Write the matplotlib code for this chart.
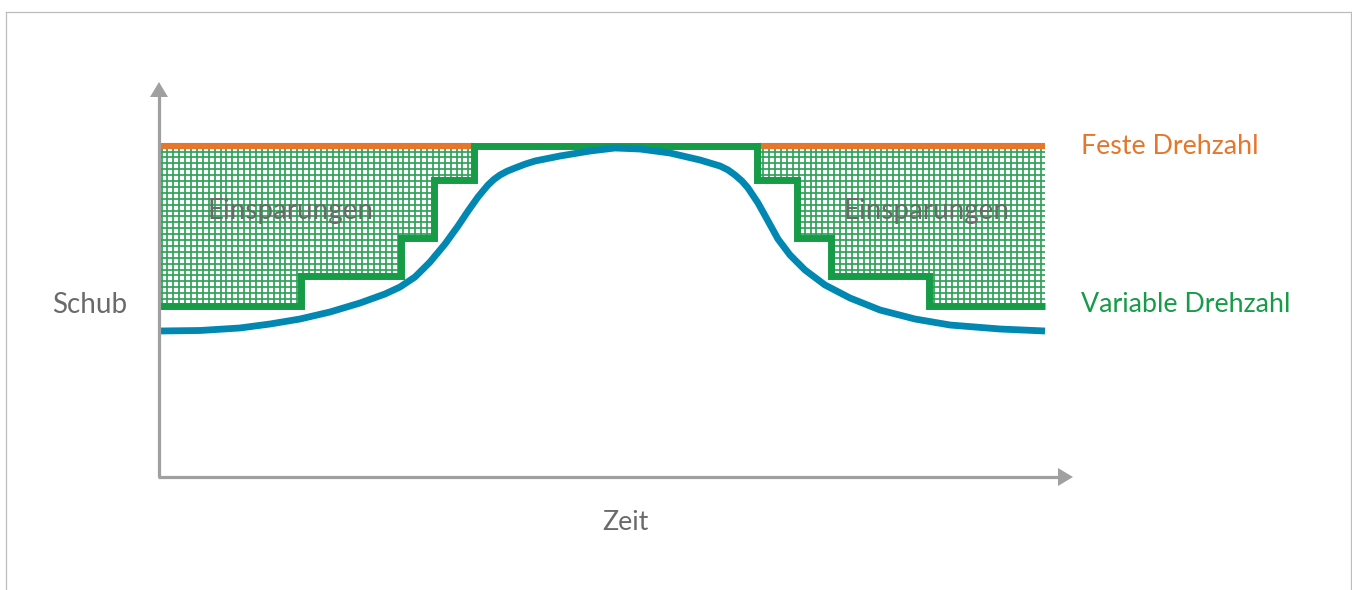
import numpy as np
import matplotlib
matplotlib.use("Agg")
import matplotlib.pyplot as plt
from matplotlib.path import Path
from matplotlib.patches import PathPatch, Polygon
from matplotlib.collections import LineCollection
from matplotlib.transforms import IdentityTransform

# ---- data (time and thrust in percent of the fixed-speed level) ----
step_time = [0, 16.0, 27.3, 31.0, 35.5, 67.5, 72.0, 75.8, 86.9, 100]
step_thrust = [51.8, 60.6, 72.2, 89.7, 100, 89.7, 72.2, 60.6, 51.8, 51.8]

fixed_time = [[0, 35.5], [67.5, 100]]
fixed_thrust = 100

demand_time = [0, 4.63, 9.14, 12.53, 15.91, 19.30, 22.69, 25.51, 27.20, 28.89,
               30.59, 32.28, 33.75, 34.88, 36.00, 37.13, 37.80, 38.49, 39.30, 40.18,
               41.30, 42.44, 45.26, 48.65, 51.47, 54.29, 57.67, 61.06, 63.32, 64.20,
               65.01, 65.80, 66.48, 67.61, 68.74, 69.86, 71.22, 72.91, 75.17, 77.99,
               81.38, 85.33, 89.28, 94.92, 100]
demand_thrust = [44.11, 44.26, 45.02, 46.22, 47.73, 49.85, 52.57, 55.29, 57.40, 60.42,
                 64.95, 70.39, 75.83, 80.36, 84.59, 88.22, 89.90, 91.24, 92.40, 93.35,
                 94.50, 95.47, 96.98, 98.49, 99.40, 99.09, 97.89, 95.77, 93.96, 92.80,
                 91.24, 89.40, 87.31, 82.78, 77.34, 71.90, 67.07, 62.54, 58.01, 54.08,
                 50.45, 47.73, 45.92, 44.71, 44.11]

label_fixed = "Feste Drehzahl"
label_variable = "Variable Drehzahl"
label_savings = "Einsparungen"
label_y = "Schub"
label_x = "Zeit"

# ---- style ----
ORANGE = "#E5762A"
GREEN = "#169B47"
HATCH = "#2FA258"
BLUE = "#0088B2"
AXIS = "#A0A0A0"
TEXT = "#6A6A6A"
FONT = "Lato"

W, H, DPI = 1352, 590, 100
X0, Y0 = 159, 477            # pixel position of the axis origin (from top-left)
SX, SY = 8.86, 3.31          # pixels per data unit

fig = plt.figure(figsize=(W / DPI, H / DPI), dpi=DPI)
ax = fig.add_axes([0, 0, 1, 1])
ax.set_xlim(-X0 / SX, (W - X0) / SX)
ax.set_ylim((Y0 - H) / SY, Y0 / SY)
ax.axis("off")


def px(x, y):
    """Pixel (from top-left) to data coordinates."""
    return (x - X0) / SX, (Y0 - y) / SY


# frame around the figure
frame_kw = dict(color="#BDBDBD", lw=0.9, transform=fig.transFigure)
fig.add_artist(plt.Line2D([5.5 / W, 5.5 / W], [0, 1 - 11.5 / H], **frame_kw))
fig.add_artist(plt.Line2D([5.5 / W, 1350.5 / W], [1 - 11.5 / H, 1 - 11.5 / H], **frame_kw))
fig.add_artist(plt.Line2D([1350.5 / W, 1350.5 / W], [0, 1 - 11.5 / H], **frame_kw))

# savings region: between fixed-speed level and the stepped variable-speed line
verts = []
for i in range(len(step_time) - 1):
    verts.append((step_time[i], step_thrust[i]))
    verts.append((step_time[i + 1], step_thrust[i]))
verts.append((step_time[-1], step_thrust[-1]))
verts.append((step_time[-1], fixed_thrust))
verts.append((step_time[0], fixed_thrust))
region = PathPatch(Path(verts + [verts[0]], closed=True), facecolor="none", edgecolor="none")
ax.add_patch(region)

# grid hatch inside the region, drawn in pixel space
spacing = 5.9
segs = []
for gx in np.arange(X0 + 2.5, 1046, spacing):
    segs.append([(gx, H - 140), (gx, H - 320)])
for gy in np.arange(146 + 5.5, 312, spacing):
    segs.append([(X0, H - gy), (1046, H - gy)])
grid = LineCollection(segs, colors=HATCH, linewidths=1.25, transform=IdentityTransform(),
                      zorder=1)
ax.add_collection(grid)
grid.set_clip_path(region)

# fixed speed
for seg in fixed_time:
    ax.plot(seg, [fixed_thrust, fixed_thrust], color=ORANGE, lw=4.4,
            solid_capstyle="butt", zorder=3)

# variable speed steps
ax.plot(step_time, step_thrust, drawstyle="steps-post", color=GREEN, lw=5.0,
        solid_capstyle="butt", solid_joinstyle="miter", zorder=4)

# demand curve
ax.plot(demand_time, demand_thrust, color=BLUE, lw=4.9, solid_capstyle="butt",
        solid_joinstyle="round", zorder=5)

# axes with arrow heads
ax.plot(*zip(px(X0, Y0), px(X0, 95)), color=AXIS, lw=2.3, solid_capstyle="butt", zorder=6)
ax.add_patch(Polygon([px(X0 - 9, 97), px(X0 + 9, 97), px(X0, 82)], closed=True,
                     color=AXIS, lw=0, zorder=6))
ax.plot(*zip(px(X0 - 1, Y0), px(1060, Y0)), color=AXIS, lw=2.3, solid_capstyle="butt", zorder=6)
ax.add_patch(Polygon([px(1058, Y0 - 9), px(1058, Y0 + 9), px(1073, Y0)], closed=True,
                     color=AXIS, lw=0, zorder=6))

# labels
fs = 19.3
txt_kw = dict(fontsize=fs, family=FONT, va="center")
ax.text(*px(1081, 147), label_fixed, color=ORANGE, ha="left", **txt_kw)
ax.text(*px(1081, 304), label_variable, color=GREEN, ha="left", **txt_kw)
ax.text(*px(290, 211), label_savings, color=TEXT, ha="center", zorder=7,
        **dict(txt_kw, fontsize=20))
ax.text(*px(927, 211), label_savings, color=TEXT, ha="center", zorder=7,
        **dict(txt_kw, fontsize=20))
ax.text(*px(90, 305), label_y, color=TEXT, ha="center", **dict(txt_kw, fontsize=20))
ax.text(*px(625, 522), label_x, color=TEXT, ha="center", **txt_kw)

fig.savefig("out.png", dpi=DPI)
